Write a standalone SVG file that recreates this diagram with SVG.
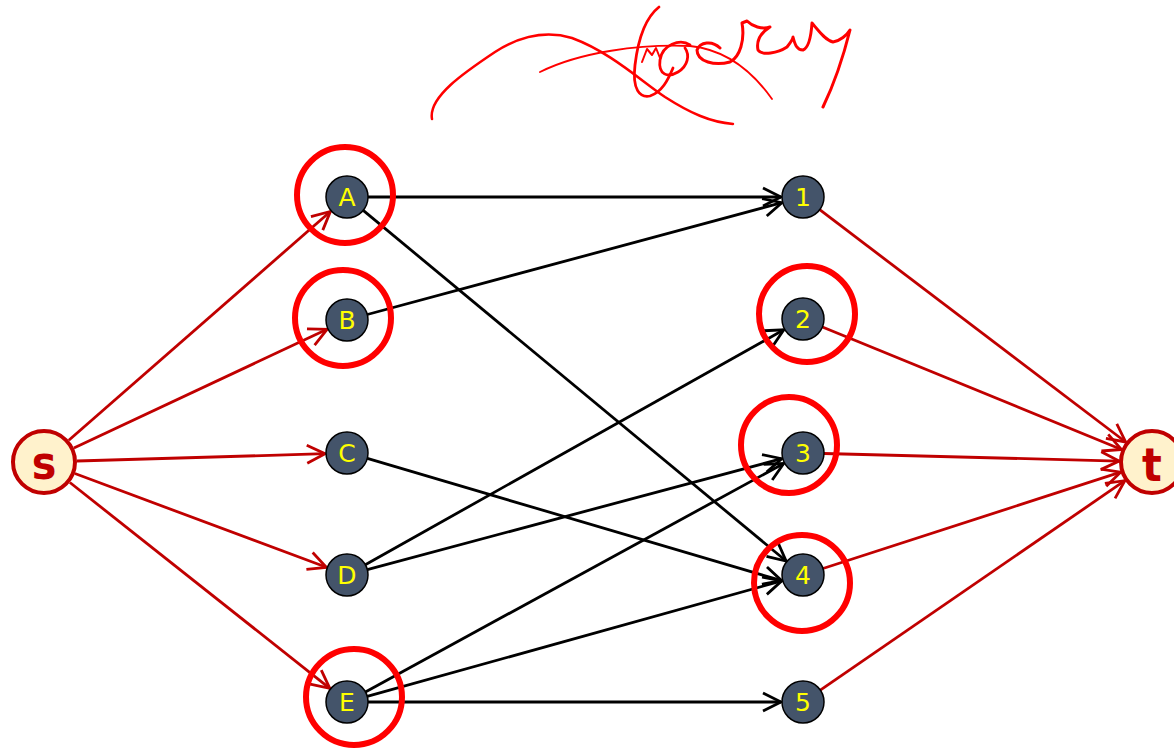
<svg xmlns="http://www.w3.org/2000/svg" width="1174" height="748" viewBox="0 0 1174 748">
<style>
.red{stroke:#C00000;stroke-width:2.8;fill:none}
.blk{stroke:#000;stroke-width:2.8;fill:none}
.nd{fill:#44546A;stroke:#000;stroke-width:1.5}
.lbl{fill:#FFFF00;font-family:"DejaVu Sans","Noto Sans",sans-serif;font-size:25px;text-anchor:middle}
.st{fill:#FFF2CC;stroke:#C00000;stroke-width:4}
.stl{fill:#C00000;font-family:"DejaVu Sans Condensed","DejaVu Sans",sans-serif;font-weight:bold;font-size:46px;text-anchor:middle}
.hl{fill:none;stroke:#FF0000;stroke-width:6}
.ink{fill:none;stroke:#FF0000;stroke-linecap:round;stroke-linejoin:round}
</style>
<defs>
<marker id="ar" viewBox="-22 -12 25 24" markerWidth="25" markerHeight="24" refX="0" refY="0" orient="auto" markerUnits="userSpaceOnUse">
<path d="M-18,-9 L0,0 L-18,9" fill="none" stroke="#C00000" stroke-width="2.8"/>
</marker>
<marker id="ab" viewBox="-22 -12 25 24" markerWidth="25" markerHeight="24" refX="0" refY="0" orient="auto" markerUnits="userSpaceOnUse">
<path d="M-18,-9 L0,0 L-18,9" fill="none" stroke="#000" stroke-width="2.8"/>
</marker>
</defs>
<rect width="1174" height="748" fill="#fff"/>
<g id="scribble">
<path class="ink" stroke-width="2.5" d="M432,119 C428,97 465,72 495,52 C520,36 545,30 572,38 C610,52 640,80 665,97 C690,113 710,122 733,124"/>
<path class="ink" stroke-width="1.8" d="M540,72 C580,52 640,44 690,46 C730,50 755,75 772,99"/>
<path class="ink" stroke-width="2.8" d="M659,7 C645,18 638,40 635,65 C632,90 640,98 650,96 C662,92 668,80 673,68"/>
<path class="ink" stroke-width="2" d="M642,62 L647,49 L652,55 L656,48 L660,58"/>
<path class="ink" stroke-width="2.8" d="M690,45 C680,38 662,45 660,60 C658,75 668,78 678,72 C688,66 690,55 685,48"/>
<path class="ink" stroke-width="3" d="M720,48 C712,40 700,42 697,50 C697,62 715,66 730,62 C740,57 745,40 742,23 L747,21 C752,26 762,30 770,27 C762,32 756,40 758,50 C762,56 778,53 787,47 C791,42 793,38 793,37 C795,45 797,50 803,50 C808,48 811,38 812,23 C818,30 825,40 833,42 C840,41 847,35 850,30 C845,50 836,80 823,107"/>
</g>
<g id="connectors">
<line class="red" x1="68.8" y1="440.3" x2="330.4" y2="211.5" marker-end="url(#ar)"/>
<line class="red" x1="73.9" y1="448" x2="327.1" y2="329.3" marker-end="url(#ar)"/>
<line class="red" x1="77" y1="461" x2="325" y2="453.7" marker-end="url(#ar)"/>
<line class="red" x1="74.9" y1="473.5" x2="326.4" y2="567.3" marker-end="url(#ar)"/>
<line class="red" x1="69.9" y1="482.5" x2="329.8" y2="688.3" marker-end="url(#ar)"/>
<line class="blk" x1="368" y1="197" x2="781" y2="197" marker-end="url(#ab)"/>
<line class="blk" x1="363.2" y1="210.4" x2="786.1" y2="561" marker-end="url(#ab)"/>
<line class="blk" x1="367.3" y1="314.5" x2="781.8" y2="202.7" marker-end="url(#ab)"/>
<line class="blk" x1="367.3" y1="458.4" x2="781.7" y2="580.7" marker-end="url(#ab)"/>
<line class="blk" x1="365.3" y1="564.7" x2="783.8" y2="329.8" marker-end="url(#ab)"/>
<line class="blk" x1="367.3" y1="569.6" x2="781.7" y2="458.7" marker-end="url(#ab)"/>
<line class="blk" x1="365.4" y1="691.9" x2="783.7" y2="463.5" marker-end="url(#ab)"/>
<line class="blk" x1="367.2" y1="696.4" x2="781.8" y2="580.9" marker-end="url(#ab)"/>
<line class="blk" x1="368" y1="702" x2="781" y2="702" marker-end="url(#ab)"/>
<line class="red" x1="819.7" y1="209.7" x2="1125.7" y2="442" marker-end="url(#ar)"/>
<line class="red" x1="822.4" y1="327" x2="1121.5" y2="449.5" marker-end="url(#ar)"/>
<line class="red" x1="824" y1="453.5" x2="1119" y2="461.1" marker-end="url(#ar)"/>
<line class="red" x1="823" y1="568.5" x2="1120.6" y2="472.2" marker-end="url(#ar)"/>
<line class="red" x1="820.3" y1="690.1" x2="1124.8" y2="480.7" marker-end="url(#ar)"/>
</g>
<g id="node-s"><circle class="st" cx="44" cy="462" r="31"/><text class="stl" x="44" y="479">s</text></g>
<g id="node-t"><circle class="st" cx="1152" cy="462" r="31"/><text class="stl" x="1152" y="481">t</text></g>
<g id="node-A"><circle class="nd" cx="347" cy="197" r="21"/><text class="lbl" x="347" y="206">A</text></g>
<g id="node-B"><circle class="nd" cx="347" cy="320" r="21"/><text class="lbl" x="347" y="329">B</text></g>
<g id="node-C"><circle class="nd" cx="347" cy="453" r="21"/><text class="lbl" x="347" y="462">C</text></g>
<g id="node-D"><circle class="nd" cx="347" cy="575" r="21"/><text class="lbl" x="347" y="584">D</text></g>
<g id="node-E"><circle class="nd" cx="347" cy="702" r="21"/><text class="lbl" x="347" y="711">E</text></g>
<g id="node-1"><circle class="nd" cx="803" cy="197" r="21"/><text class="lbl" x="803" y="206">1</text></g>
<g id="node-2"><circle class="nd" cx="803" cy="319" r="21"/><text class="lbl" x="803" y="328">2</text></g>
<g id="node-3"><circle class="nd" cx="803" cy="453" r="21"/><text class="lbl" x="803" y="462">3</text></g>
<g id="node-4"><circle class="nd" cx="803" cy="575" r="21"/><text class="lbl" x="803" y="584">4</text></g>
<g id="node-5"><circle class="nd" cx="803" cy="702" r="21"/><text class="lbl" x="803" y="711">5</text></g>
<g id="highlights">
<circle class="hl" cx="345" cy="195" r="48"/>
<circle class="hl" cx="343" cy="318" r="48"/>
<circle class="hl" cx="354" cy="697" r="48"/>
<circle class="hl" cx="807" cy="314" r="48"/>
<circle class="hl" cx="789" cy="445" r="48"/>
<circle class="hl" cx="802" cy="583" r="48"/>
</g>
</svg>
